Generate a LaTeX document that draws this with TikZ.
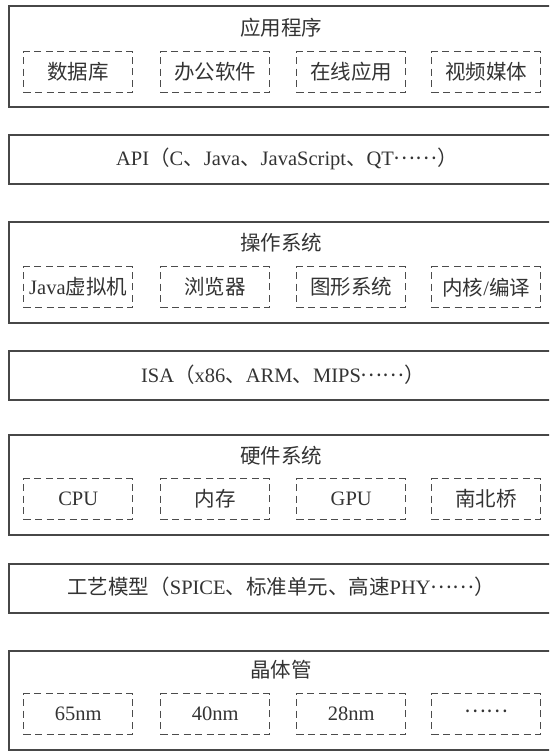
\documentclass[tikz,border=0pt]{standalone}
\usepackage{fontspec}
\setmainfont{Liberation Serif}
\newfontfamily\cjk{Noto Sans CJK SC}
\newcommand{\middots}{\raisebox{0.3em}{\cjk ……}}
\begin{document}
\begin{tikzpicture}[x=1pt,y=-1pt,
  layer/.style={draw=black!72, line width=1.8pt, anchor=north west, inner sep=0pt, minimum width=600pt},
  sub/.style={draw=black!70, dash pattern=on 7pt off 4.5pt, line width=1.4pt, minimum width=109pt, minimum height=41pt, inner sep=0pt, anchor=north west},
  lbl/.style={text=black!80, font=\fontsize{20.5}{23}\selectfont, inner sep=0pt}]
\useasboundingbox (0,0) rectangle (549,751);
\clip (0,0) rectangle (549,751);

% layers
\node[layer, minimum height=101pt] (app) at (8,5) {};
\node[layer, minimum height=49pt] (api) at (8,134) {};
\node[layer, minimum height=101pt] (os) at (8,221) {};
\node[layer, minimum height=49pt] (isa) at (8,350) {};
\node[layer, minimum height=100pt] (hw) at (8,434) {};
\node[layer, minimum height=49pt] (proc) at (8,563) {};
\node[layer, minimum height=99pt] (tr) at (8,650) {};

% titles
\node[lbl] (appt) at (281,28) {\cjk 应用程序};
\node[lbl] (apit) at (287,159) {API{\cjk （}C{\cjk 、}Java{\cjk 、}JavaScript{\cjk 、}QT\middots{\cjk ）}};
\node[lbl] (ost) at (281,243) {\cjk 操作系统};
\node[lbl] (isat) at (283,375) {ISA{\cjk （}x86{\cjk 、}ARM{\cjk 、}MIPS\middots{\cjk ）}};
\node[lbl] (hwt) at (281,456) {\cjk 硬件系统};
\node[lbl] (proct) at (281,587) {{\cjk 工艺模型（}SPICE{\cjk 、标准单元、高速}PHY\middots{\cjk ）}};
\node[lbl] (trt) at (281,670) {\cjk 晶体管};

% application sub-boxes
\node[sub] (a1) at (23,51) {};  \node[lbl] at (a1.center) {\cjk 数据库};
\node[sub] (a2) at (160,51) {}; \node[lbl] at (a2.center) {\cjk 办公软件};
\node[sub] (a3) at (296,51) {}; \node[lbl] at (a3.center) {\cjk 在线应用};
\node[sub] (a4) at (431,51) {}; \node[lbl] at (a4.center) {\cjk 视频媒体};

% OS sub-boxes
\node[sub] (o1) at (23,266) {};  \node[lbl] at (o1.center) {Java{\cjk 虚拟机}};
\node[sub] (o2) at (160,266) {}; \node[lbl] at (o2.center) {\cjk 浏览器};
\node[sub] (o3) at (296,266) {}; \node[lbl] at (o3.center) {\cjk 图形系统};
\node[sub] (o4) at (431,266) {}; \node[lbl] at (o4.center) {{\cjk 内核}/{\cjk 编译}};

% HW sub-boxes
\node[sub] (h1) at (23,478) {};  \node[lbl] at (h1.center) {CPU};
\node[sub] (h2) at (160,478) {}; \node[lbl] at (h2.center) {\cjk 内存};
\node[sub] (h3) at (296,478) {}; \node[lbl] at (h3.center) {GPU};
\node[sub] (h4) at (431,478) {}; \node[lbl] at (h4.center) {\cjk 南北桥};

% transistor sub-boxes
\node[sub] (t1) at (23,693) {};  \node[lbl] at (t1.center) {65nm};
\node[sub] (t2) at (160,693) {}; \node[lbl] at (t2.center) {40nm};
\node[sub] (t3) at (296,693) {}; \node[lbl] at (t3.center) {28nm};
\node[sub] (t4) at (431,693) {}; \node[lbl] at (t4.center) {\middots};
\end{tikzpicture}
\end{document}
